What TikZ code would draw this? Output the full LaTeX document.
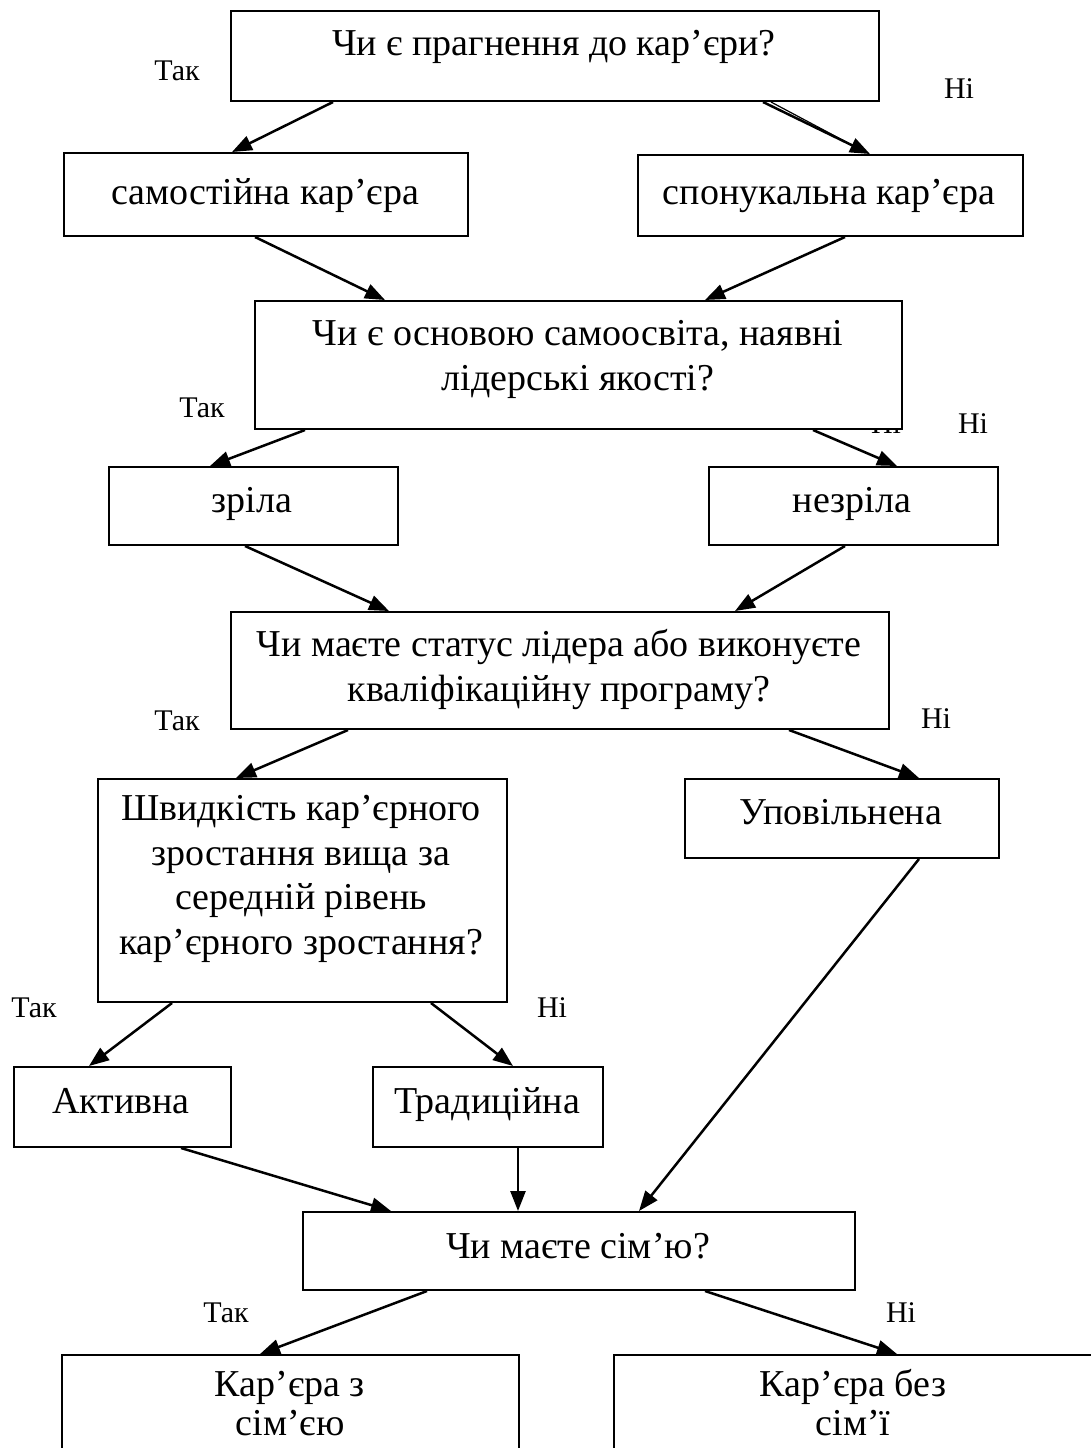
\documentclass[tikz,border=0pt]{standalone}
\usepackage{fontspec}
\setmainfont{Liberation Serif}
\usetikzlibrary{arrows.meta}
\tikzset{
  box/.style={draw, line width=2pt, fill=white, inner sep=0pt, anchor=north west},
  txt/.style={font=\fontsize{38}{44.5}\selectfont, inner sep=0pt, anchor=base, align=center},
  txtb/.style={font=\fontsize{38}{39}\selectfont, inner sep=0pt, anchor=base, align=center},
  lbl/.style={font=\fontsize{30}{34}\selectfont, inner sep=0pt, anchor=base},
  arr/.style={line width=2.5pt, -{Triangle[length=20pt,width=15pt]}},
}
\begin{document}
\begin{tikzpicture}[x=1pt,y=-1pt]
\useasboundingbox (0,0) rectangle (1091,1448);
% hidden label behind second question
\node[lbl] (hidden) at (886,433) {Ні};
% boxes
\node[box, minimum width=648pt, minimum height=90pt] (q1) at (230,10) {};
\node[box, minimum width=404pt, minimum height=83pt] (s1) at (63,152) {};
\node[box, minimum width=385pt, minimum height=81pt] (s2) at (637,154) {};
\node[box, minimum width=647pt, minimum height=128pt] (q2) at (254,300) {};
\node[box, minimum width=289pt, minimum height=78pt] (m1) at (108,466) {};
\node[box, minimum width=289pt, minimum height=78pt] (m2) at (708,466) {};
\node[box, minimum width=658pt, minimum height=117pt] (q3) at (230,611) {};
\node[box, minimum width=409pt, minimum height=223pt] (q4) at (97,778) {};
\node[box, minimum width=314pt, minimum height=79pt] (u) at (684,778) {};
\node[box, minimum width=217pt, minimum height=80pt] (a) at (13,1066) {};
\node[box, minimum width=230pt, minimum height=80pt] (t) at (372,1066) {};
\node[box, minimum width=552pt, minimum height=78pt] (f) at (302,1211) {};
\node[box, minimum width=457pt, minimum height=140pt] (bl) at (61,1354) {};
\node[box, minimum width=480pt, minimum height=140pt] (br) at (613,1354) {};
% texts (multi-line nodes are placed by the baseline of their last line)
\node[txt] (q1t) at (554,55) {Чи є прагнення до кар’єри?};
\node[txt] (s1t) at (265,204) {самостійна кар’єра};
\node[txt] (s2t) at (829,204) {спонукальна кар’єра};
\node[txt] (q2t) at (578,390) {Чи є основою самоосвіта, наявні\\лідерські якості?};
\node[txt] (m1t) at (252,512) {зріла};
\node[txt] (m2t) at (852,512) {незріла};
\node[txt] (q3t) at (559,701) {Чи маєте статус лідера або виконуєте\\кваліфікаційну програму?};
\node[txt] (q4t) at (301,954) {Швидкість кар’єрного\\зростання вища за\\середній рівень\\кар’єрного зростання?};
\node[txt] (ut) at (841,824) {Уповільнена};
\node[txt] (at) at (121,1113) {Активна};
\node[txt] (tt) at (487,1113) {Традиційна};
\node[txt] (ft) at (578,1258) {Чи маєте сім’ю?};
\node[txtb] (blt) at (290,1435) {Кар’єра з\\сім’єю};
\node[txtb] (brt) at (853,1435) {Кар’єра без\\сім’ї};
% labels
\node[lbl] (y1) at (177,80) {Так};
\node[lbl] (n1) at (959,98) {Ні};
\node[lbl] (y2) at (202,417) {Так};
\node[lbl] (n2) at (973,433) {Ні};
\node[lbl] (y3) at (177,730) {Так};
\node[lbl] (n3) at (936,728) {Ні};
\node[lbl] (y4) at (34,1017) {Так};
\node[lbl] (n4) at (552,1017) {Ні};
\node[lbl] (y5) at (226,1322) {Так};
\node[lbl] (n5) at (901,1322) {Ні};
% connectors
\draw[arr] ([xshift=103pt]q1.south west) -- ([xshift=169pt]s1.north west);
\draw[arr] ([xshift=533pt]q1.south west) -- ([xshift=233pt]s2.north west);
\draw[line width=1.2pt] ([xshift=541pt]q1.south west) -- ([xshift=228pt,yshift=2pt]s2.north west);
\draw[arr] ([xshift=192pt]s1.south west) -- ([xshift=131pt]q2.north west);
\draw[arr] ([xshift=208pt]s2.south west) -- ([xshift=451pt]q2.north west);
\draw[arr] ([xshift=51pt]q2.south west) -- ([xshift=102pt]m1.north west);
\draw[arr] ([xshift=559pt]q2.south west) -- ([xshift=189pt]m2.north west);
\draw[arr] ([xshift=137pt]m1.south west) -- ([xshift=159pt]q3.north west);
\draw[arr] ([xshift=137pt]m2.south west) -- ([xshift=505pt]q3.north west);
\draw[arr] ([xshift=118pt]q3.south west) -- ([xshift=139pt]q4.north west);
\draw[arr] ([xshift=559pt]q3.south west) -- ([xshift=235pt]u.north west);
\draw[arr] ([xshift=75pt]q4.south west) -- ([xshift=76pt]a.north west);
\draw[arr] ([xshift=334pt]q4.south west) -- ([xshift=141pt]t.north west);
\draw[arr] ([xshift=168pt]a.south west) -- ([xshift=89pt]f.north west);
\draw[arr] ([xshift=146pt]t.south west) -- ([xshift=216pt]f.north west);
\draw[arr] ([xshift=235pt]u.south west) -- ([xshift=337pt]f.north west);
\draw[arr] ([xshift=125pt]f.south west) -- ([xshift=199pt]bl.north west);
\draw[arr] ([xshift=403pt]f.south west) -- ([xshift=284pt]br.north west);
\end{tikzpicture}
\end{document}
